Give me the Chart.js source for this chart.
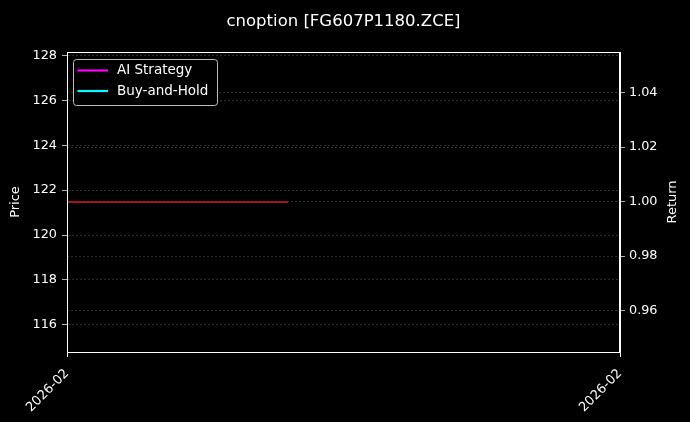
<!DOCTYPE html>
<html>
<head>
<meta charset="utf-8">
<script src="https://cdn.jsdelivr.net/npm/chart.js@4.4.1/dist/chart.umd.min.js"></script>
<style>
  html, body { margin: 0; padding: 0; background: #000; }
  #wrap { width: 690px; height: 422px; }
</style>
</head>
<body>
<div id="wrap"><canvas id="chart" width="690" height="422"></canvas></div>
<script>
// data
const titleText = 'cnoption [FG607P1180.ZCE]';
const leftTitle = 'Price';
const rightTitle = 'Return';
const xTickPos = [0, 10];
const xTickLabels = ['2026-02', '2026-02'];
const priceX = [0, 1, 2, 3, 4];
const priceY = [121.47, 121.47, 121.47, 121.47, 121.47];
const aiReturn = [];
const bhReturn = [];
const priceTicks = [116, 118, 120, 122, 124, 126, 128];
const returnTicks = [0.96, 0.98, 1.00, 1.02, 1.04];

const FONT = 'DejaVu Sans';
const gridColor = 'rgba(140,140,140,0.45)';

const bgPlugin = {
  id: 'bg',
  beforeDraw(chart) {
    const c = chart.ctx;
    c.save();
    c.fillStyle = '#000';
    c.fillRect(0, 0, chart.width, chart.height);
    c.restore();
  }
};

const framePlugin = {
  id: 'frame',
  afterDraw(chart) {
    const c = chart.ctx;
    const a = chart.chartArea;
    const midY = (a.top + a.bottom) / 2;
    c.save();
    c.strokeStyle = '#fff';
    c.lineWidth = 1;
    c.strokeRect(Math.round(a.left) + 0.5, Math.round(a.top) + 0.5,
      Math.round(a.right - a.left) - 1, Math.round(a.bottom - a.top));
    c.fillStyle = '#fff';
    // title
    c.font = '16.5px "' + FONT + '"';
    c.textAlign = 'center';
    c.textBaseline = 'alphabetic';
    c.fillText(titleText, (a.left + a.right) / 2, 26);
    // axis titles, both read bottom to top
    c.font = '13px "' + FONT + '"';
    c.textBaseline = 'middle';
    [[16, leftTitle], [673, rightTitle]].forEach(([x, t]) => {
      c.save();
      c.translate(x, midY);
      c.rotate(-Math.PI / 2);
      c.fillText(t, 0, 0);
      c.restore();
    });
    c.restore();
  }
};

const legendPlugin = {
  id: 'boxLegend',
  afterDraw(chart) {
    const c = chart.ctx;
    const a = chart.chartArea;
    const items = chart.data.datasets.filter(d => d.showInLegend);
    const x0 = a.left + 6, y0 = a.top + 7;
    const w = 144, h = 46;
    c.save();
    c.beginPath();
    c.roundRect(x0 + 0.5, y0 + 0.5, w, h, 3);
    c.fillStyle = 'rgba(0,0,0,0.8)';
    c.fill();
    c.strokeStyle = 'rgba(220,220,220,0.85)';
    c.lineWidth = 1;
    c.stroke();
    c.font = '13.5px "' + FONT + '"';
    c.textBaseline = 'middle';
    c.textAlign = 'left';
    items.forEach((d, i) => {
      const y = y0 + 11.5 + i * 20.5;
      c.strokeStyle = d.borderColor;
      c.lineWidth = 2.2;
      c.beginPath();
      c.moveTo(x0 + 4.5, y);
      c.lineTo(x0 + 35, y);
      c.stroke();
      c.fillStyle = '#fff';
      c.fillText(d.label, x0 + 44, y);
    });
    c.restore();
  }
};

const yGrid = {
  color: gridColor,
  lineWidth: 0.7,
  tickLength: 5,
  tickColor: '#fff',
  tickBorderDash: []
};

new Chart(document.getElementById('chart'), {
  type: 'line',
  data: {
    datasets: [
      {
        label: 'Price',
        data: priceX.map((x, i) => ({ x: x, y: priceY[i] })),
        yAxisID: 'y',
        borderColor: 'rgb(215,25,25)',
        borderWidth: 1.3,
        pointRadius: 0,
        tension: 0
      },
      {
        label: 'AI Strategy',
        data: aiReturn,
        yAxisID: 'y1',
        borderColor: '#ff00ff',
        borderWidth: 2,
        pointRadius: 0,
        showInLegend: true
      },
      {
        label: 'Buy-and-Hold',
        data: bhReturn,
        yAxisID: 'y1',
        borderColor: '#00ffff',
        borderWidth: 2,
        pointRadius: 0,
        showInLegend: true
      }
    ]
  },
  options: {
    responsive: false,
    animation: false,
    layout: { padding: { top: 52, left: 0, right: 0, bottom: 0 } },
    plugins: {
      legend: { display: false },
      title: { display: false },
      tooltip: { enabled: false }
    },
    scales: {
      x: {
        type: 'linear',
        min: 0,
        max: 10,
        afterBuildTicks: s => { s.ticks = xTickPos.map(v => ({ value: v })); },
        afterFit: s => { s.height = 70; },
        ticks: {
          color: '#fff',
          font: { family: FONT, size: 13 },
          minRotation: 45,
          maxRotation: 45,
          padding: 9,
          callback: (v, i) => xTickLabels[i]
        },
        grid: { drawOnChartArea: false, drawTicks: true, tickLength: 5, tickColor: '#fff' },
        border: { color: '#fff' }
      },
      y: {
        position: 'left',
        min: 114.79,
        max: 128.15,
        afterBuildTicks: s => { s.ticks = priceTicks.map(v => ({ value: v })); },
        afterFit: s => { s.width = 67; },
        ticks: {
          color: '#fff',
          font: { family: FONT, size: 12.8 },
          padding: 5,
          callback: v => String(v)
        },
        grid: yGrid,
        border: { color: '#fff', dash: [2, 2] }
      },
      y1: {
        position: 'right',
        min: 0.9448,
        max: 1.0549,
        afterBuildTicks: s => { s.ticks = returnTicks.map(v => ({ value: v })); },
        afterFit: s => { s.width = 70; },
        ticks: {
          color: '#fff',
          font: { family: FONT, size: 12.8 },
          padding: 4,
          callback: v => Number(v).toFixed(2)
        },
        grid: yGrid,
        border: { color: '#fff', dash: [2, 2] }
      }
    }
  },
  plugins: [bgPlugin, framePlugin, legendPlugin]
});
</script>
</body>
</html>
